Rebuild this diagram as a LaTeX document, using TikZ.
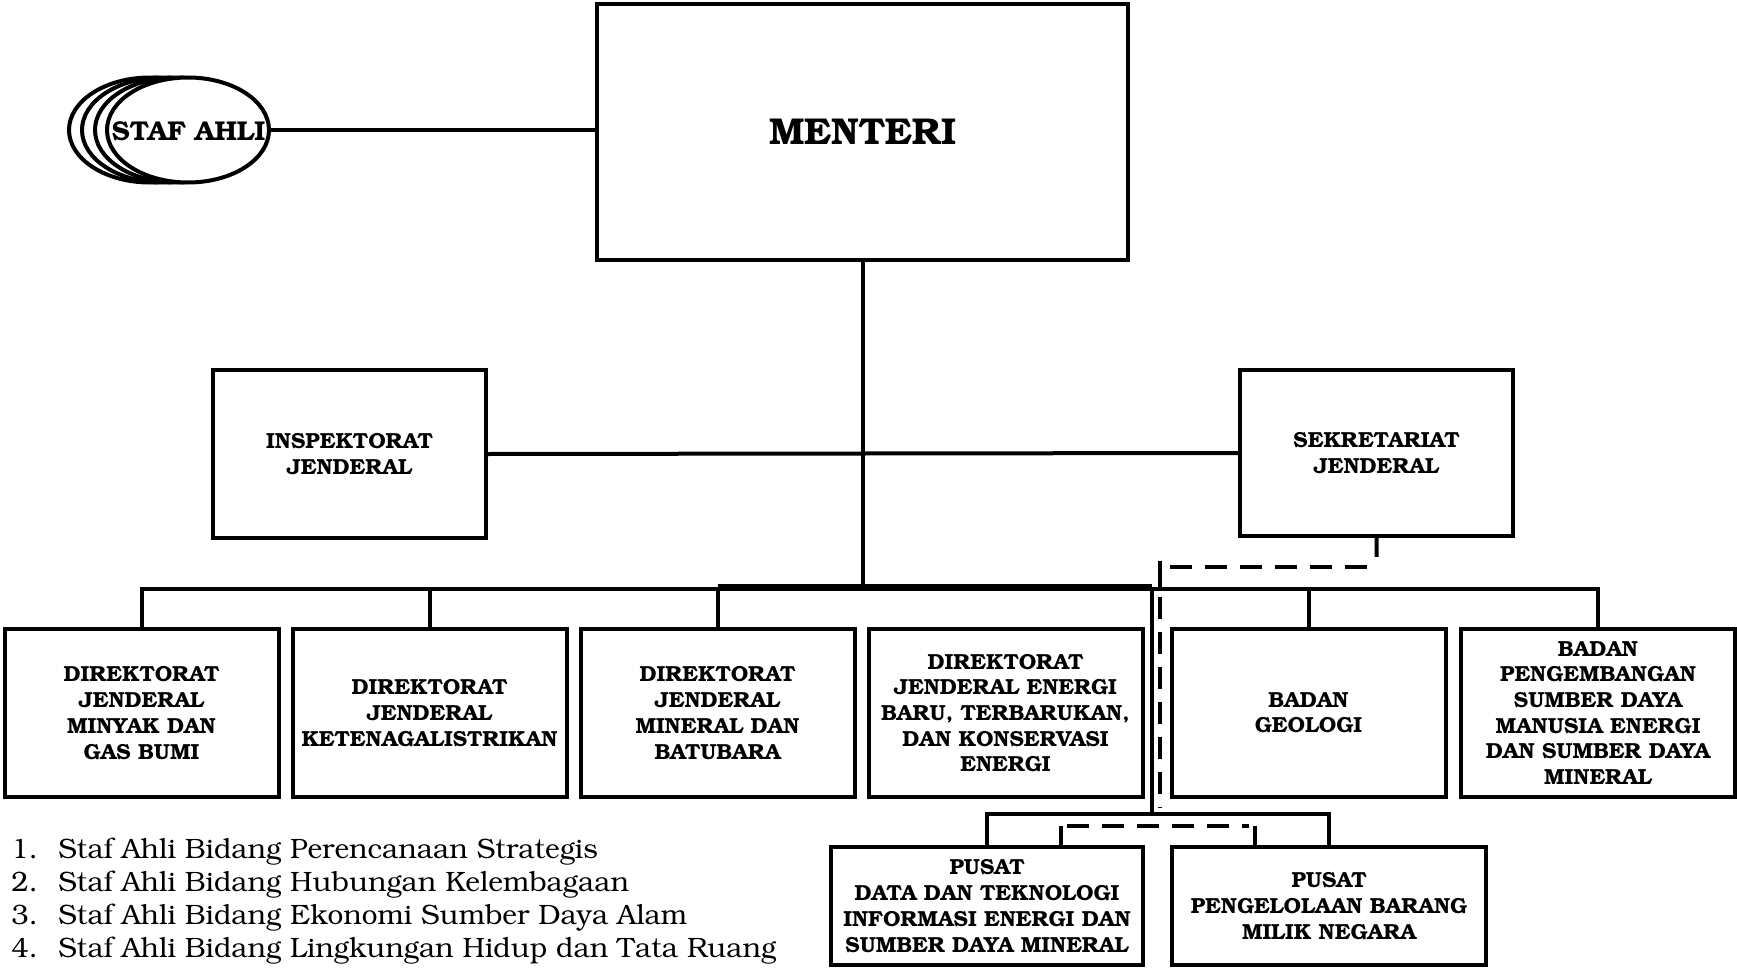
\documentclass[tikz,border=0pt]{standalone}
\usepackage[T1]{fontenc}
\usepackage{bookman}
\usetikzlibrary{shapes.geometric,calc}
\tikzset{
  px/.style={x=0.5pt,y=-0.5pt},
  orgbox/.style={draw,line width=2pt,fill=white,align=center,inner sep=0pt,
    font=\fontsize{10.9}{12.85}\selectfont\bfseries},
  conn/.style={line width=2pt},
  dconn/.style={line width=2.4pt,dash pattern=on 11pt off 6.5pt},
  oval/.style={draw,ellipse,line width=2pt,fill=white,minimum width=81pt,minimum height=52.5pt,inner sep=0pt},
  listitem/.style={anchor=base west,inner sep=0pt,font=\fontsize{14}{16}\selectfont}
}
\begin{document}
\begin{tikzpicture}[px]
\useasboundingbox (0,0) rectangle (1737,969);
% staf ahli
\node[oval] (e1) at (150,130) {};
\node[oval] (e2) at (163,130) {};
\node[oval] (e3) at (176,130) {};
\node[oval] (staf) at (188,130) {};
\node[inner sep=0pt,font=\fontsize{13.6}{15}\selectfont\bfseries] (staftxt) at (188.5,131) {STAF AHLI};
% top
\node[orgbox,minimum width=265.5pt,minimum height=128pt,font=\fontsize{18.7}{20}\selectfont\bfseries] (menteri) at (862.5,132) {MENTERI};
\node[orgbox,minimum width=136.5pt,minimum height=84pt] (insp) at (349.5,454) {INSPEKTORAT\\JENDERAL};
\node[orgbox,minimum width=136.5pt,minimum height=83pt] (sekr) at (1376.5,453) {SEKRETARIAT\\JENDERAL};
% row
\node[orgbox,minimum width=137pt,minimum height=84pt] (b1) at (141.5,713) {DIREKTORAT\\JENDERAL\\MINYAK DAN\\GAS BUMI};
\node[orgbox,minimum width=137pt,minimum height=84pt] (b2) at (429.5,713) {DIREKTORAT\\JENDERAL\\KETENAGALISTRIKAN};
\node[orgbox,minimum width=137pt,minimum height=84pt] (b3) at (717.5,713) {DIREKTORAT\\JENDERAL\\MINERAL DAN\\BATUBARA};
\node[orgbox,minimum width=137pt,minimum height=84pt] (b4) at (1005.5,713) {DIREKTORAT\\JENDERAL ENERGI\\BARU, TERBARUKAN,\\DAN KONSERVASI\\ENERGI};
\node[orgbox,minimum width=137pt,minimum height=84pt] (b5) at (1308.5,713) {BADAN\\GEOLOGI};
\node[orgbox,minimum width=137pt,minimum height=84pt] (b6) at (1598,713) {BADAN\\PENGEMBANGAN\\SUMBER DAYA\\MANUSIA ENERGI\\DAN SUMBER DAYA\\MINERAL};
% pusat
\node[orgbox,minimum width=156pt,minimum height=59pt] (p1) at (987,906) {PUSAT\\DATA DAN TEKNOLOGI\\INFORMASI ENERGI DAN\\SUMBER DAYA MINERAL};
\node[orgbox,minimum width=157pt,minimum height=59pt] (p2) at (1329,906) {PUSAT\\PENGELOLAAN BARANG\\MILIK NEGARA};
% coordinates
\coordinate (bus) at (862.5,589);
\coordinate (thickL) at (717.5,586);
\coordinate (thickR) at (1152,586);
\coordinate (sv) at (1152,589);
\coordinate (ph) at (1152,814);
\coordinate (sd1) at (1376.5,567);
\coordinate (sd2) at (1160,567);
\coordinate (sd3) at (1160,597);
\coordinate (sd4) at (1160,808);
\coordinate (pd) at (1158,826);
% solid connectors
\draw[conn] (staf.east) -- (staf.east -| menteri.west);
\draw[conn] (menteri.south) -- (bus);
\draw[conn] (insp.east) -- (sekr.west);
\draw[conn,line cap=rect] (b1.north |- bus) -- (b6.north |- bus);
\draw[conn,line width=2.5pt] (thickL) -- (thickR);
\foreach \b in {b1,b2,b3,b5,b6} \draw[conn] (\b.north) -- (\b.north |- bus);
\draw[conn] (sv) -- (ph);
\draw[conn] (p1.north) -- (p1.north |- ph) -- (p2.north |- ph) -- (p2.north);
% dashed connectors
\draw[conn] (sekr.south) -- ($(sekr.south)!0.65!(sd1)$);
\draw[dconn] ($(sd1)+(-10,0)$) -- ($(sd2)+(8,0)$);
\draw[conn] ($(sd2)+(0,-6)$) -- ($(sd2)+(0,20)$);
\draw[dconn] (sd3) -- (sd4);
\draw[dconn] ($(pd -| p1.north)+(80,0)$) -- ($(pd -| p2.north)+(-80,0)$);
\draw[conn] ($(pd -| p1.north)+(74,0)$) -- ($(p1.north)+(74,0)$);
\draw[conn] ($(pd -| p2.north)+(-74,0)$) -- ($(p2.north)+(-74,0)$);
% list
\foreach \i/\t [count=\k from 0] in {1/Staf Ahli Bidang Perencanaan Strategis,2/Staf Ahli Bidang Hubungan Kelembagaan,3/Staf Ahli Bidang Ekonomi Sumber Daya Alam,4/Staf Ahli Bidang Lingkungan Hidup dan Tata Ruang}{
  \node[listitem] (n\i) at (11,{858+33*\k}) {\i.};
  \node[listitem] (t\i) at (58,{858+33*\k}) {\t};
}
\end{tikzpicture}
\end{document}
